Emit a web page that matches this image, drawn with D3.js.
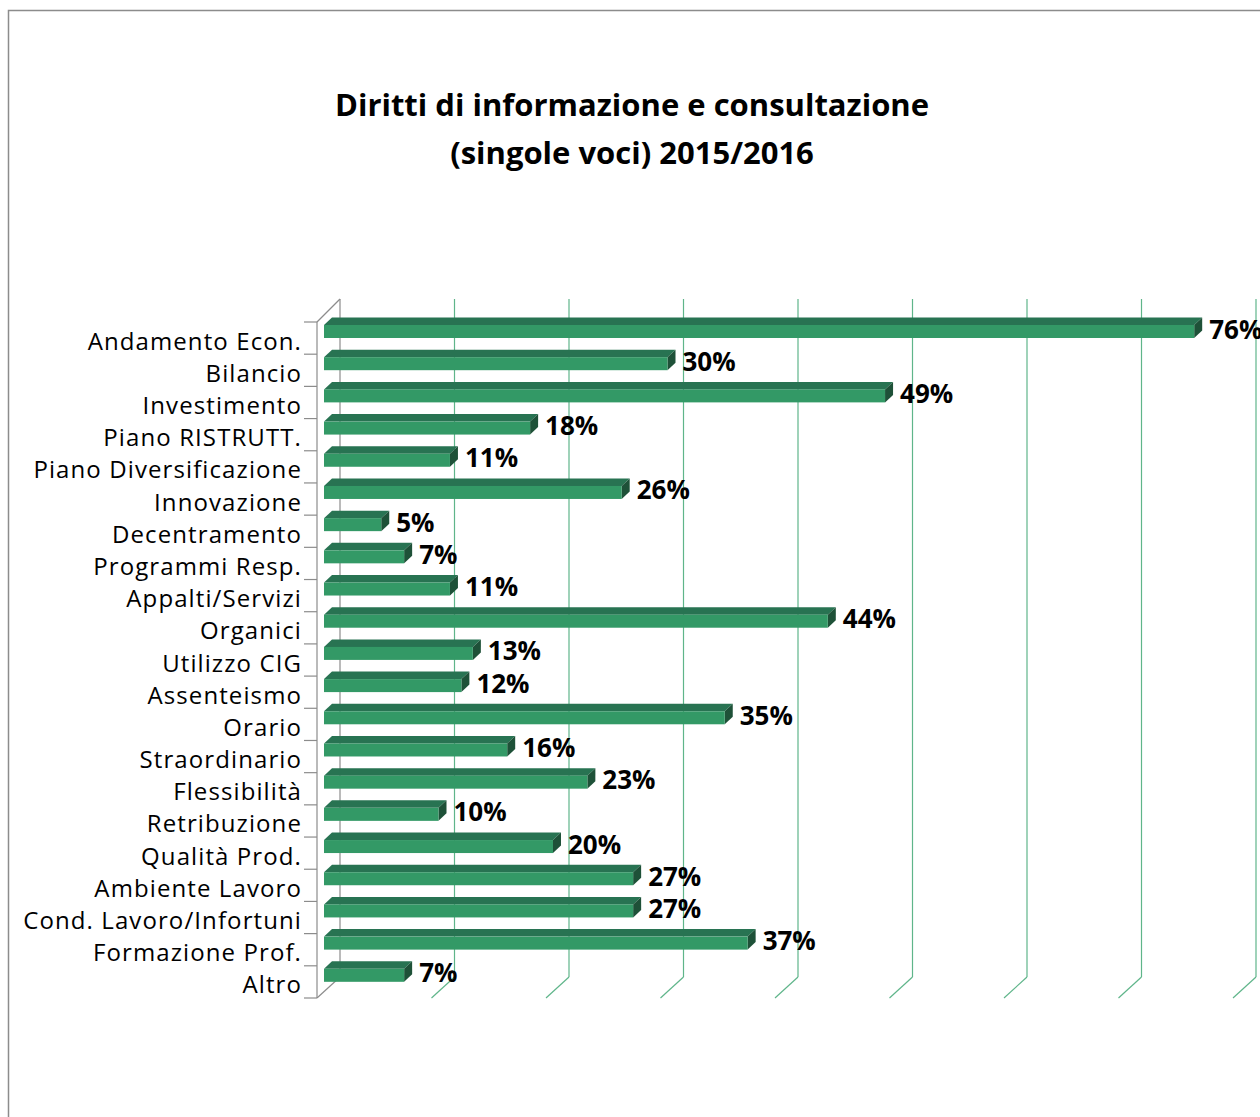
<!DOCTYPE html>
<html><head><meta charset="utf-8">
<script src="https://cdn.jsdelivr.net/npm/d3@7"></script>
<style>
html,body{margin:0;padding:0;background:#fff;}
svg{display:block;}
</style></head>
<body>
<script>
const categories = ["Andamento Econ.","Bilancio","Investimento","Piano RISTRUTT.","Piano Diversificazione","Innovazione","Decentramento","Programmi Resp.","Appalti/Servizi","Organici","Utilizzo CIG","Assenteismo","Orario","Straordinario","Flessibilità","Retribuzione","Qualità Prod.","Ambiente Lavoro","Cond. Lavoro/Infortuni","Formazione Prof.","Altro"];
const values = [0.76,0.30,0.49,0.18,0.11,0.26,0.05,0.07,0.11,0.44,0.13,0.12,0.35,0.16,0.23,0.10,0.20,0.27,0.27,0.37,0.07];
const xTicks = [0,0.1,0.2,0.3,0.4,0.5,0.6,0.7,0.8];
const titleLines = ["Diritti di informazione e consultazione","(singole voci) 2015/2016"];

const W = 1260, H = 1117;
const FONT = "'Open Sans', 'Noto Sans', sans-serif";
const svg = d3.select("body").append("svg").attr("width", W).attr("height", H);
svg.append("rect").attr("width", W).attr("height", H).attr("fill", "#fff");

// chart border
svg.append("rect").attr("x", 8.5).attr("y", 10.5).attr("width", 1400).attr("height", 1300)
  .attr("fill", "none").attr("stroke", "#8c8c8c").attr("stroke-width", 1.5);

// title
const title = svg.append("text").attr("x", 632).attr("y", 116)
  .attr("text-anchor", "middle")
  .style("font-family", FONT)
  .style("font-weight", "bold").style("font-size", "31px").attr("fill", "#000");
titleLines.forEach((t, i) => title.append("tspan").attr("x", 632).attr("dy", i === 0 ? 0 : 48).text(t));

// geometry
const depth = {dx: 23, dy: -21};      // floor front -> back wall
const frontX0 = 317;                   // left axis x
const barShift = 7;                    // bar front offset from floor front
const barDepth = {dx: 8, dy: -7.5};    // bar top face depth

const x = d3.scaleLinear().domain([0, 0.8]).range([frontX0 + barShift, frontX0 + barShift + 916]);
const y = d3.scaleBand().domain(categories).range([322, 998]).paddingInner(0).paddingOuter(0);

const gridCol = "#5fb58a", axisCol = "#8c8c8c";
const floorY = 998, backBottom = floorY + depth.dy, backTop = 299;

// back wall grid lines and floor diagonals
const g = svg.append("g");
xTicks.forEach((v, i) => {
  const xf = x(v) - barShift;
  const xb = xf + depth.dx;
  const col = i === 0 ? axisCol : gridCol;
  g.append("line").attr("x1", xb).attr("x2", xb).attr("y1", backTop).attr("y2", backBottom)
    .attr("stroke", col).attr("stroke-width", 1.2);
  g.append("line").attr("x1", xb).attr("x2", xf).attr("y1", backBottom).attr("y2", floorY)
    .attr("stroke", col).attr("stroke-width", 1.2);
});

// left wall: axis line, top diagonal, ticks
g.append("line").attr("x1", frontX0).attr("x2", frontX0).attr("y1", y.range()[0]).attr("y2", floorY)
  .attr("stroke", axisCol).attr("stroke-width", 1.2);
g.append("line").attr("x1", frontX0).attr("x2", frontX0 + depth.dx).attr("y1", y.range()[0]).attr("y2", backTop)
  .attr("stroke", axisCol).attr("stroke-width", 1.2);
const bounds = categories.map(c => y(c)).concat([y.range()[1]]);
bounds.forEach(b => {
  g.append("line").attr("x1", frontX0 - 13).attr("x2", frontX0).attr("y1", b).attr("y2", b)
    .attr("stroke", axisCol).attr("stroke-width", 1.2);
});

// category labels
svg.append("g").selectAll("text").data(categories).join("text")
  .attr("x", 302).attr("y", c => y(c) + y.bandwidth() / 2 + 2)
  .attr("text-anchor", "end").attr("dominant-baseline", "central")
  .style("font-family", FONT).style("letter-spacing", "1.1px")
  .style("font-size", "24px").attr("fill", "#000").text(c => c);

// bars
const faceH = 13;
const bars = svg.append("g").selectAll("g").data(categories).join("g");
bars.each(function(c, i) {
  const sel = d3.select(this);
  const v = values[i];
  const x0 = x(0), x1 = x(v);
  const top = y(c) + 3;
  const bot = top + faceH;
  const dx = barDepth.dx, dy = barDepth.dy;
  // top face
  sel.append("path").attr("d", `M${x0},${top}L${x0+dx},${top+dy}L${x1+dx},${top+dy}L${x1},${top}Z`)
    .attr("fill", "#287352");
  // side face
  sel.append("path").attr("d", `M${x1},${top}L${x1+dx},${top+dy}L${x1+dx},${bot+dy}L${x1},${bot}Z`)
    .attr("fill", "#1e5138");
  // front face
  sel.append("rect").attr("x", x0).attr("y", top).attr("width", x1 - x0).attr("height", faceH)
    .attr("fill", "#339966");
  // value label
  sel.append("text").attr("x", x1 + dx + 7).attr("y", top + faceH / 2 - 3)
    .attr("dominant-baseline", "central")
    .style("font-family", FONT)
    .style("font-weight", "bold").style("font-size", "26px").attr("fill", "#000")
    .text(d3.format(".0%")(v));
});
</script>
</body></html>
